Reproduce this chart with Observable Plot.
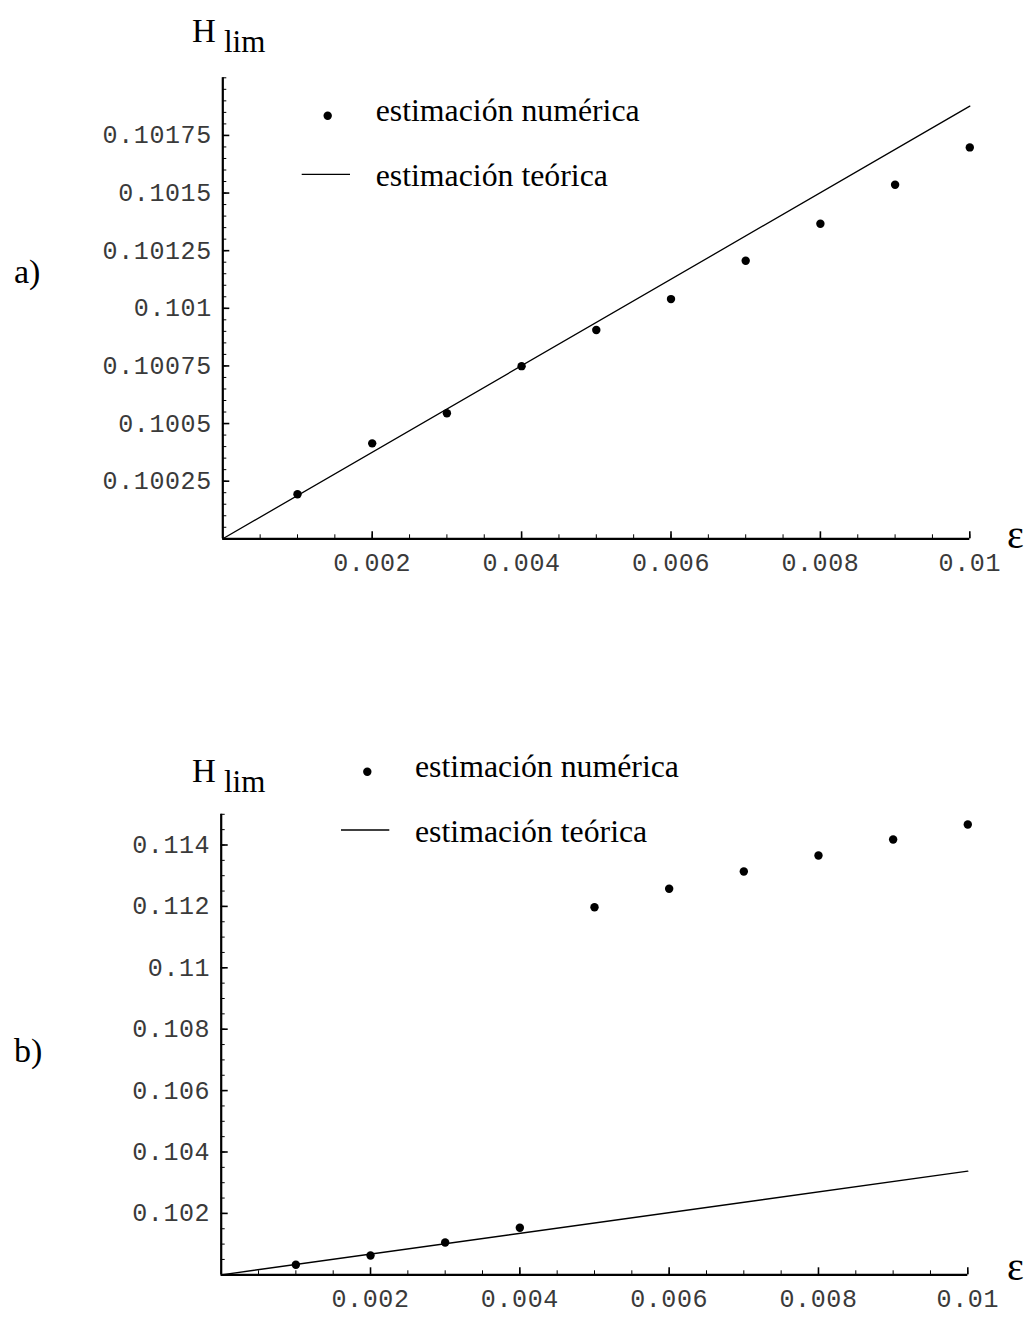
<!DOCTYPE html>
<html>
<head>
<meta charset="utf-8">
<script src="https://cdn.jsdelivr.net/npm/d3@7"></script>
<script src="https://cdn.jsdelivr.net/npm/@observablehq/plot@0.6"></script>
<style>
  html, body { margin: 0; padding: 0; background: #fff; }
  #wrap { position: relative; width: 1030px; height: 1319px; overflow: hidden; }
  #wrap > svg, #wrap > div { position: absolute; left: 0; }
  .ticklab g[aria-label="text"] { letter-spacing: 0.6px; }
</style>
</head>
<body>
<div id="wrap"></div>
<script>
// ---------- data ----------
const epsilon = [0.001, 0.002, 0.003, 0.004, 0.005, 0.006, 0.007, 0.008, 0.009, 0.01];
const hNumA = [0.100193, 0.100414, 0.100545, 0.100749, 0.100906, 0.101040, 0.101206, 0.101367, 0.101536, 0.101698];
const hNumB = [0.100326, 0.100629, 0.101052, 0.101531, 0.111974, 0.112573, 0.113137, 0.113658, 0.114179, 0.114668];
const theoryEps = [0, 0.01];
const hTheoA = [0.1, 0.101877];
const hTheoB = [0.1, 0.103375];
const xTicks = [0.002, 0.004, 0.006, 0.008, 0.01];
const yTicksA = [0.10025, 0.1005, 0.10075, 0.101, 0.10125, 0.1015, 0.10175];
const yTicksB = [0.102, 0.104, 0.106, 0.108, 0.11, 0.112, 0.114];
const legendLabels = ["estimación numérica", "estimación teórica"];

const MONO = "'Liberation Mono', 'DejaVu Sans Mono', monospace";
const SERIF = "'Liberation Serif', 'DejaVu Serif', serif";

function panel({top, height, mt, mb, ml, mr, yDomain, yTicks, yMinorStep, hNum, hTheo}) {
  const width = 1030;
  const fw = width - ml - mr;
  const fh = height - mt - mb;
  const pts = epsilon.map((e, i) => ({e, h: hNum[i]}));
  const theo = theoryEps.map((e, i) => ({e, h: hTheo[i]}));
  const xMinor = d3.range(0, 0.01 + 1e-9, 0.0005);
  const yMinor = d3.range(yDomain[0], yDomain[1] + 1e-9, yMinorStep);
  const plot = Plot.plot({
    width, height,
    marginTop: mt, marginBottom: mb, marginLeft: ml, marginRight: mr,
    className: "ticklab",
    x: {domain: [0, 0.01], axis: null},
    y: {domain: yDomain, axis: null},
    marks: [
      // minor ticks (inward)
      Plot.ruleX(xMinor, {x: d => d, insetTop: fh - 4, stroke: "#000", strokeWidth: 1}),
      Plot.ruleY(yMinor, {y: d => d, insetRight: fw - 4, stroke: "#000", strokeWidth: 1}),
      // major ticks
      Plot.ruleX(xTicks, {x: d => d, insetTop: fh - 7, stroke: "#000", strokeWidth: 1.6}),
      Plot.ruleY(yTicks, {y: d => d, insetRight: fw - 7, stroke: "#000", strokeWidth: 1.6}),
      // axes lines
      Plot.ruleY([yDomain[0]], {stroke: "#000", strokeWidth: 2.2}),
      Plot.ruleX([0], {stroke: "#000", strokeWidth: 2.2}),
      // tick labels
      Plot.text(xTicks, {x: d => d, frameAnchor: "bottom", dy: 32, text: d => String(d),
        fontFamily: MONO, fontSize: 25, fill: "#3a3a3a"}),
      Plot.text(yTicks, {y: d => d, frameAnchor: "left", dx: -11, textAnchor: "end", text: d => String(d),
        fontFamily: MONO, fontSize: 25, fill: "#3a3a3a"}),
      // data
      Plot.line(theo, {x: "e", y: "h", stroke: "#000", strokeWidth: 1.3}),
      Plot.dot(pts, {x: "e", y: "h", r: 4.2, fill: "#000", stroke: "none"})
    ]
  });
  plot.style.top = top + "px";
  return plot;
}

const wrap = document.getElementById("wrap");
wrap.appendChild(panel({top: 0, height: 600, mt: 77.3, mb: 61.7, ml: 222.3, mr: 60.7,
  yDomain: [0.1, 0.102], yTicks: yTicksA, yMinorStep: 0.00005, hNum: hNumA, hTheo: hTheoA}));
wrap.appendChild(panel({top: 700, height: 619, mt: 113.8, mb: 44.7, ml: 220.7, mr: 62.7,
  yDomain: [0.1, 0.115], yTicks: yTicksB, yMinorStep: 0.0005, hNum: hNumB, hTheo: hTheoB}));

// ---------- overlay labels & legends ----------
const ov = d3.select(wrap).append("svg")
  .attr("width", 1030).attr("height", 1319)
  .style("top", "0px").style("pointer-events", "none")
  .attr("font-family", SERIF).attr("fill", "#000");

function hlim(baseline) {
  const t = ov.append("text").attr("y", baseline);
  t.append("tspan").attr("x", 192).attr("font-size", 33).text("H");
  t.append("tspan").attr("x", 224).attr("dy", 10).attr("font-size", 31).text("lim");
}
hlim(42);
hlim(782);

ov.append("text").attr("x", 14).attr("y", 283).attr("font-size", 34).text("a)");
ov.append("text").attr("x", 14).attr("y", 1062).attr("font-size", 34).text("b)");

ov.append("text").attr("x", 1007).attr("y", 548).attr("font-size", 40).text("ε");
ov.append("text").attr("x", 1007).attr("y", 1280).attr("font-size", 40).text("ε");

function legend(dotX, dotY, lineX1, lineX2, lineY, textX, b1, b2) {
  ov.append("circle").attr("cx", dotX).attr("cy", dotY).attr("r", 4.2).attr("fill", "#000");
  ov.append("line").attr("x1", lineX1).attr("x2", lineX2).attr("y1", lineY).attr("y2", lineY)
    .attr("stroke", "#000").attr("stroke-width", 1.3);
  ov.append("text").attr("x", textX).attr("y", b1).attr("font-size", 31.8).text(legendLabels[0]);
  ov.append("text").attr("x", textX).attr("y", b2).attr("font-size", 31.8).text(legendLabels[1]);
}
legend(327.7, 115.7, 301.7, 350, 174.3, 375.7, 121, 186);
legend(367.3, 771.7, 341, 389.3, 830, 415, 777, 842);
</script>
</body>
</html>
